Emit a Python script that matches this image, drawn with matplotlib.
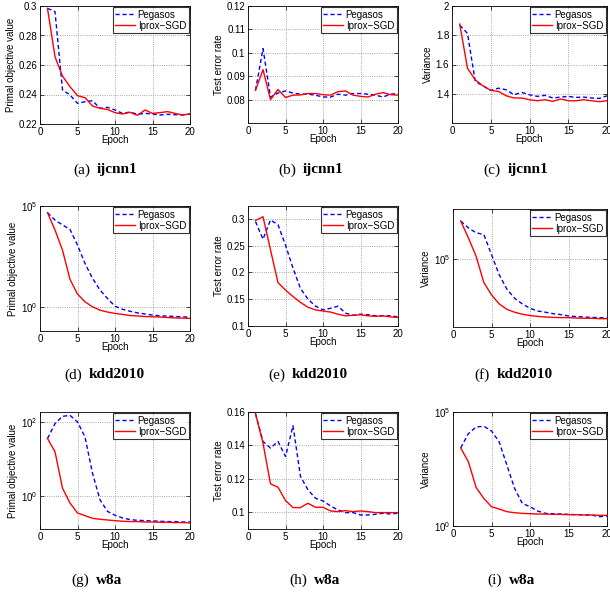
import numpy as np
import matplotlib
matplotlib.use("Agg")
import matplotlib.pyplot as plt
from matplotlib.ticker import FixedLocator, NullLocator

plt.rcParams['font.family'] = ['Liberation Sans', 'DejaVu Sans']
plt.rcParams['mathtext.fontset'] = 'custom'
plt.rcParams['mathtext.rm'] = 'Liberation Sans'
plt.rcParams['mathtext.it'] = 'Liberation Sans:italic'

# ---- data ----
epochs = np.arange(1, 21)

# ijcnn1
ijcnn1_obj_peg = [0.2984, 0.2962, 0.2431, 0.2397, 0.2340, 0.2351, 0.2358, 0.2306, 0.2313, 0.2295,
                  0.2272, 0.2281, 0.2266, 0.2272, 0.2268, 0.2261, 0.2266, 0.2263, 0.2261, 0.2268]
ijcnn1_obj_ipx = [0.2984, 0.2656, 0.2525, 0.2453, 0.2392, 0.2379, 0.2322, 0.2306, 0.2299, 0.2277,
                  0.2268, 0.2279, 0.2259, 0.2295, 0.2272, 0.2277, 0.2284, 0.2272, 0.2261, 0.2268]
ijcnn1_err_peg = [0.0840, 0.1018, 0.0811, 0.0828, 0.0837, 0.0828, 0.0823, 0.0823, 0.0819, 0.0811,
                  0.0811, 0.0823, 0.0819, 0.0826, 0.0826, 0.0823, 0.0819, 0.0811, 0.0823, 0.0826]
ijcnn1_err_ipx = [0.0840, 0.0928, 0.0800, 0.0843, 0.0809, 0.0819, 0.0820, 0.0826, 0.0826, 0.0821,
                  0.0819, 0.0834, 0.0837, 0.0819, 0.0814, 0.0811, 0.0823, 0.0830, 0.0821, 0.0819]
ijcnn1_var_peg = [1.869, 1.812, 1.484, 1.454, 1.423, 1.438, 1.427, 1.393, 1.409, 1.393,
                  1.382, 1.389, 1.371, 1.377, 1.382, 1.375, 1.377, 1.371, 1.368, 1.386]
ijcnn1_var_ipx = [1.876, 1.574, 1.495, 1.454, 1.423, 1.416, 1.386, 1.371, 1.371, 1.359,
                  1.352, 1.359, 1.348, 1.364, 1.352, 1.352, 1.359, 1.352, 1.346, 1.352]

# kdd2010
kdd_obj_peg = [46800, 20000, 11500, 6900, 1150, 141, 25.7, 6.8, 2.57, 1.07,
               0.76, 0.60, 0.50, 0.44, 0.39, 0.355, 0.347, 0.331, 0.316, 0.31]
kdd_obj_ipx = [46800, 6460, 646, 22.9, 4.27, 1.78, 1.0, 0.68, 0.55, 0.47,
               0.42, 0.37, 0.35, 0.33, 0.32, 0.31, 0.295, 0.28, 0.275, 0.265]
kdd_err_peg = [0.295, 0.262, 0.298, 0.289, 0.251, 0.208, 0.170, 0.150, 0.137, 0.130,
               0.133, 0.137, 0.124, 0.120, 0.122, 0.121, 0.119, 0.119, 0.119, 0.117]
kdd_err_ipx = [0.297, 0.304, 0.242, 0.181, 0.167, 0.155, 0.144, 0.135, 0.130, 0.128,
               0.126, 0.122, 0.119, 0.120, 0.121, 0.119, 0.118, 0.119, 0.117, 0.116]
kdd_var_peg = [351600, 281200, 238200, 225400, 115600, 59300, 36700, 27200, 22500, 19500,
               17800, 17100, 16300, 15800, 15100, 14800, 14600, 14400, 14300, 14100]
kdd_var_ipx = [351600, 201400, 109400, 45900, 30400, 22500, 18800, 17100, 16000, 15300,
               14900, 14600, 14400, 14300, 14300, 14100, 14000, 14000, 13800, 13800]

# w8a
w8a_obj_peg = [35.6, 90.2, 141.9, 151.0, 100, 39.4, 4.07, 0.78, 0.378, 0.296,
               0.251, 0.226, 0.217, 0.212, 0.208, 0.204, 0.200, 0.200, 0.195, 0.195]
w8a_obj_ipx = [35.6, 15.6, 1.61, 0.635, 0.342, 0.290, 0.245, 0.231, 0.221, 0.212,
               0.204, 0.200, 0.200, 0.195, 0.195, 0.192, 0.192, 0.188, 0.188, 0.184]
w8a_err_peg = [0.159, 0.1424, 0.1384, 0.1424, 0.1334, 0.1518, 0.1214, 0.1134, 0.1084, 0.1068,
               0.1038, 0.1014, 0.0998, 0.0998, 0.0984, 0.0984, 0.0988, 0.0994, 0.0990, 0.0994]
w8a_err_ipx = [0.159, 0.1414, 0.1170, 0.1150, 0.1070, 0.1028, 0.1028, 0.1054, 0.1030, 0.1030,
               0.1008, 0.1004, 0.1010, 0.1004, 0.1008, 0.1004, 0.0998, 0.0998, 0.0998, 0.0998]
w8a_var_peg = [2667, 11270, 22080, 23600, 14760, 4875, 466, 44.4, 9.8, 7.0,
               4.53, 3.58, 3.46, 3.35, 3.24, 3.13, 3.13, 3.03, 2.56, 2.74]
w8a_var_ipx = [2667, 650, 49.1, 16.2, 7.0, 5.53, 4.24, 3.83, 3.58, 3.46,
               3.35, 3.35, 3.24, 3.24, 3.13, 3.13, 3.03, 3.03, 2.93, 2.93]

series_names = ['Pegasos', 'Iprox\u2212SGD']
ylabels = ['Primal objective value', 'Test error rate', 'Variance']
captions = [('(a)', 'ijcnn1'), ('(b)', 'ijcnn1'), ('(c)', 'ijcnn1'),
            ('(d)', 'kdd2010'), ('(e)', 'kdd2010'), ('(f)', 'kdd2010'),
            ('(g)', 'w8a'), ('(h)', 'w8a'), ('(i)', 'w8a')]

W, H = 610, 592
fig = plt.figure(figsize=(W / 100, H / 100), dpi=100)


def px_axes(l, t, r, b):
    return fig.add_axes([l / W, 1 - b / H, (r - l) / W, (b - t) / H])


def panel(box, peg, ipx, ylabel, ylim, yticks, log=False):
    ax = px_axes(*box)
    ax.plot(epochs, peg, color='blue', ls=(0, (3, 2)), lw=1.0, label=series_names[0])
    ax.plot(epochs, ipx, color='red', ls='-', lw=1.0, label=series_names[1])
    if log:
        ax.set_yscale('log')
        ax.yaxis.set_minor_locator(NullLocator())
    ax.set_xlim(0, 20)
    ax.set_ylim(*ylim)
    ax.set_xticks([0, 5, 10, 15, 20])
    ax.yaxis.set_major_locator(FixedLocator(yticks))
    if not log:
        ax.set_yticklabels([('%g' % v) for v in yticks])
    ax.grid(True, ls=':', color='0.55', lw=0.6)
    ax.tick_params(direction='in', length=3, width=0.5, labelsize=7, pad=2,
                   top=True, right=True)
    for s in ax.spines.values():
        s.set_linewidth(0.6)
    ax.set_xlabel('Epoch', fontsize=7, labelpad=-1)
    ax.set_ylabel(ylabel, fontsize=7, labelpad=2)
    leg = ax.legend(loc='upper right', fontsize=7, frameon=True, fancybox=False,
                    borderpad=0.25, handlelength=2.0, handletextpad=0.3,
                    labelspacing=0.1, borderaxespad=0.15)
    leg.get_frame().set_edgecolor('black')
    leg.get_frame().set_linewidth(0.8)
    return ax


# row 1: ijcnn1
panel((40, 6, 190, 124), ijcnn1_obj_peg, ijcnn1_obj_ipx, ylabels[0],
      (0.22, 0.30), [0.22, 0.24, 0.26, 0.28, 0.30])
panel((248, 6, 398, 123), ijcnn1_err_peg, ijcnn1_err_ipx, ylabels[1],
      (0.07, 0.12), [0.08, 0.09, 0.10, 0.11, 0.12])
panel((452, 6, 607, 123), ijcnn1_var_peg, ijcnn1_var_ipx, ylabels[2],
      (1.2, 2.0), [1.4, 1.6, 1.8, 2.0])

# row 2: kdd2010
panel((40, 206, 190, 331), kdd_obj_peg, kdd_obj_ipx, ylabels[0],
      (10 ** -1.2, 1e5), [1e0, 1e5], log=True)
panel((248, 206, 398, 326), kdd_err_peg, kdd_err_ipx, ylabels[1],
      (0.1, 0.324), [0.1, 0.15, 0.2, 0.25, 0.3])
panel((453, 209, 607, 327), kdd_var_peg, kdd_var_ipx, ylabels[2],
      (10 ** 4.02, 10 ** 5.72), [1e5], log=True)

# row 3: w8a
panel((40, 412, 190, 529), w8a_obj_peg, w8a_obj_ipx, ylabels[0],
      (10 ** -0.9, 10 ** 2.27), [1e0, 1e2], log=True)
panel((248, 412, 398, 529), w8a_err_peg, w8a_err_ipx, ylabels[1],
      (0.09, 0.16), [0.10, 0.12, 0.14, 0.16])
panel((453, 412, 607, 526), w8a_var_peg, w8a_var_ipx, ylabels[2],
      (1e0, 1e5), [1e0, 1e5], log=True)

# sub-captions: split point between "(x)" and the bold dataset name
cap_pos = [(94, 170), (300, 170), (505, 170),
           (86, 375), (289, 375), (494, 375),
           (93, 580), (311, 580), (506, 580)]
for (tag, name), (cx, cy) in zip(captions, cap_pos):
    fig.text((cx - 4) / W, 1 - cy / H, tag, ha='right', va='center',
             family='Liberation Serif', fontsize=11)
    fig.text((cx + 3) / W, 1 - cy / H, name, ha='left', va='center',
             family='Liberation Serif', fontsize=11, weight='bold')

fig.savefig('out.png', dpi=100)
